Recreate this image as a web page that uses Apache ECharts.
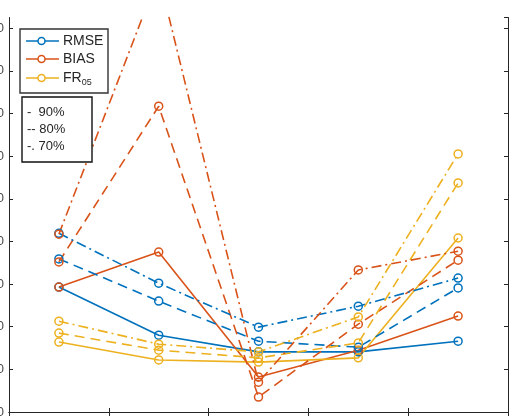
<!DOCTYPE html>
<html>
<head>
<meta charset="utf-8">
<script src="https://cdn.jsdelivr.net/npm/echarts@6/dist/echarts.min.js"></script>
<style>
html,body{margin:0;padding:0;background:#fff;}
#chart{width:518px;height:417px;}
</style>
</head>
<body>
<div id="chart"></div>
<script>
// ---- data ----
const categories = ['1', '2', '3', '4', '5'];
const yMin = 0;
const yMax = 92.5;
const yInterval = 10;

const rmse90 = [29.3, 18.0, 14.1, 14.1, 16.6];
const rmse80 = [35.9, 26.0, 16.6, 15.2, 29.1];
const rmse70 = [41.9, 30.2, 19.9, 24.8, 31.4];
const bias90 = [29.3, 37.5, 8.2, 14.5, 22.5];
const bias80 = [35.2, 71.7, 3.5, 20.6, 35.6];
const bias70 = [41.7, 102.4, 7.0, 33.3, 37.7];
const fr90 = [16.4, 12.2, 11.7, 12.7, 40.8];
const fr80 = [18.5, 14.5, 12.7, 16.2, 53.7];
const fr70 = [21.3, 15.9, 14.1, 22.3, 60.5];

const legendMetrics = ['RMSE', 'BIAS', 'FR'];
const legendStyles = ['-  90%', '-- 80%', '-. 70%'];

// ---- styling ----
const BLUE = '#0072BD', ORANGE = '#D95319', YELLOW = '#EDB120';
const SOLID = 'solid', DASH = [10, 6], DASHDOT = [10, 4, 2, 4];
const AX = '#262626';
const FONT = '"Liberation Sans", Arial, Helvetica, sans-serif';

function mk(name, data, color, type) {
  return {
    name: name, type: 'line', data: data,
    symbol: 'circle', symbolSize: 8,
    itemStyle: { color: 'rgba(255,255,255,0)', borderColor: color, borderWidth: 1.5 },
    lineStyle: { color: color, width: 1.6, type: type },
    emphasis: { disabled: true },
    clip: true, animation: false
  };
}

const series = [
  mk('RMSE 90%', rmse90, BLUE, SOLID),
  mk('BIAS 90%', bias90, ORANGE, SOLID),
  mk('FR05 90%', fr90, YELLOW, SOLID),
  mk('RMSE 80%', rmse80, BLUE, DASH),
  mk('BIAS 80%', bias80, ORANGE, DASH),
  mk('FR05 80%', fr80, YELLOW, DASH),
  mk('RMSE 70%', rmse70, BLUE, DASHDOT),
  mk('BIAS 70%', bias70, ORANGE, DASHDOT),
  mk('FR05 70%', fr70, YELLOW, DASHDOT)
];

const axisLineStyle = { color: AX, width: 1 };

const legendColors = [BLUE, ORANGE, YELLOW];
const legendGraphics = [];
// box 1
legendGraphics.push({ type: 'rect', shape: { x: 20, y: 29, width: 88, height: 64 },
  style: { fill: '#fff', stroke: '#333', lineWidth: 1.4 }, z: 100 });
legendMetrics.forEach(function (m, i) {
  const y = [41, 59, 78][i];
  legendGraphics.push({ type: 'line', shape: { x1: 26, y1: y, x2: 59, y2: y },
    style: { stroke: legendColors[i], lineWidth: 1.6 }, z: 101 });
  legendGraphics.push({ type: 'circle', shape: { cx: 41.5, cy: y, r: 3.5 },
    style: { fill: '#fff', stroke: legendColors[i], lineWidth: 1.5 }, z: 102 });
  legendGraphics.push({ type: 'text', x: 63, y: y, z: 102,
    style: { text: m === 'FR' ? 'FR{sub|05}' : m, fill: '#262626', font: '14px ' + FONT,
      verticalAlign: 'middle', align: 'left',
      rich: { sub: { fontSize: 9, fontFamily: FONT, fill: '#262626', padding: [10, 0, 0, 0] } } } });
});
// box 2
legendGraphics.push({ type: 'rect', shape: { x: 22, y: 97, width: 70, height: 65 },
  style: { fill: '#fff', stroke: '#111', lineWidth: 1.4 }, z: 100 });
legendStyles.forEach(function (s, i) {
  const y = [112, 129, 146][i];
  legendGraphics.push({ type: 'text', x: 27, y: y, z: 102,
    style: { text: s, fill: '#262626', font: '13px ' + FONT, verticalAlign: 'middle', align: 'left' } });
});

const option = {
  backgroundColor: '#fff',
  animation: false,
  grid: { left: 9, right: 10, top: 17.5, bottom: 5, containLabel: false, outerBoundsMode: 'none' },
  xAxis: [
    { type: 'category', data: categories, boundaryGap: true, position: 'bottom',
      axisLine: { show: true, lineStyle: axisLineStyle },
      axisTick: { show: true, inside: true, length: 4, lineStyle: axisLineStyle },
      axisLabel: { show: false }, splitLine: { show: false } },
    { type: 'category', data: categories, boundaryGap: true, position: 'top',
      axisLine: { show: true, lineStyle: axisLineStyle },
      axisTick: { show: true, inside: true, length: 4, lineStyle: axisLineStyle },
      axisLabel: { show: false }, splitLine: { show: false } }
  ],
  yAxis: [
    { type: 'value', min: yMin, max: yMax, interval: yInterval, position: 'left',
      axisLine: { show: true, lineStyle: axisLineStyle },
      axisTick: { show: true, inside: true, length: 4, lineStyle: axisLineStyle },
      axisLabel: { show: true, margin: 5, color: '#4d4d4d', fontSize: 13, fontFamily: FONT,
        showMaxLabel: false },
      splitLine: { show: false } },
    { type: 'value', min: yMin, max: yMax, interval: yInterval, position: 'right',
      axisLine: { show: true, lineStyle: axisLineStyle },
      axisTick: { show: true, inside: true, length: 4, lineStyle: axisLineStyle },
      axisLabel: { show: false }, splitLine: { show: false } }
  ],
  series: series,
  graphic: legendGraphics
};

const chart = echarts.init(document.getElementById('chart'), null, { renderer: 'canvas' });
chart.setOption(option);
</script>
</body>
</html>
